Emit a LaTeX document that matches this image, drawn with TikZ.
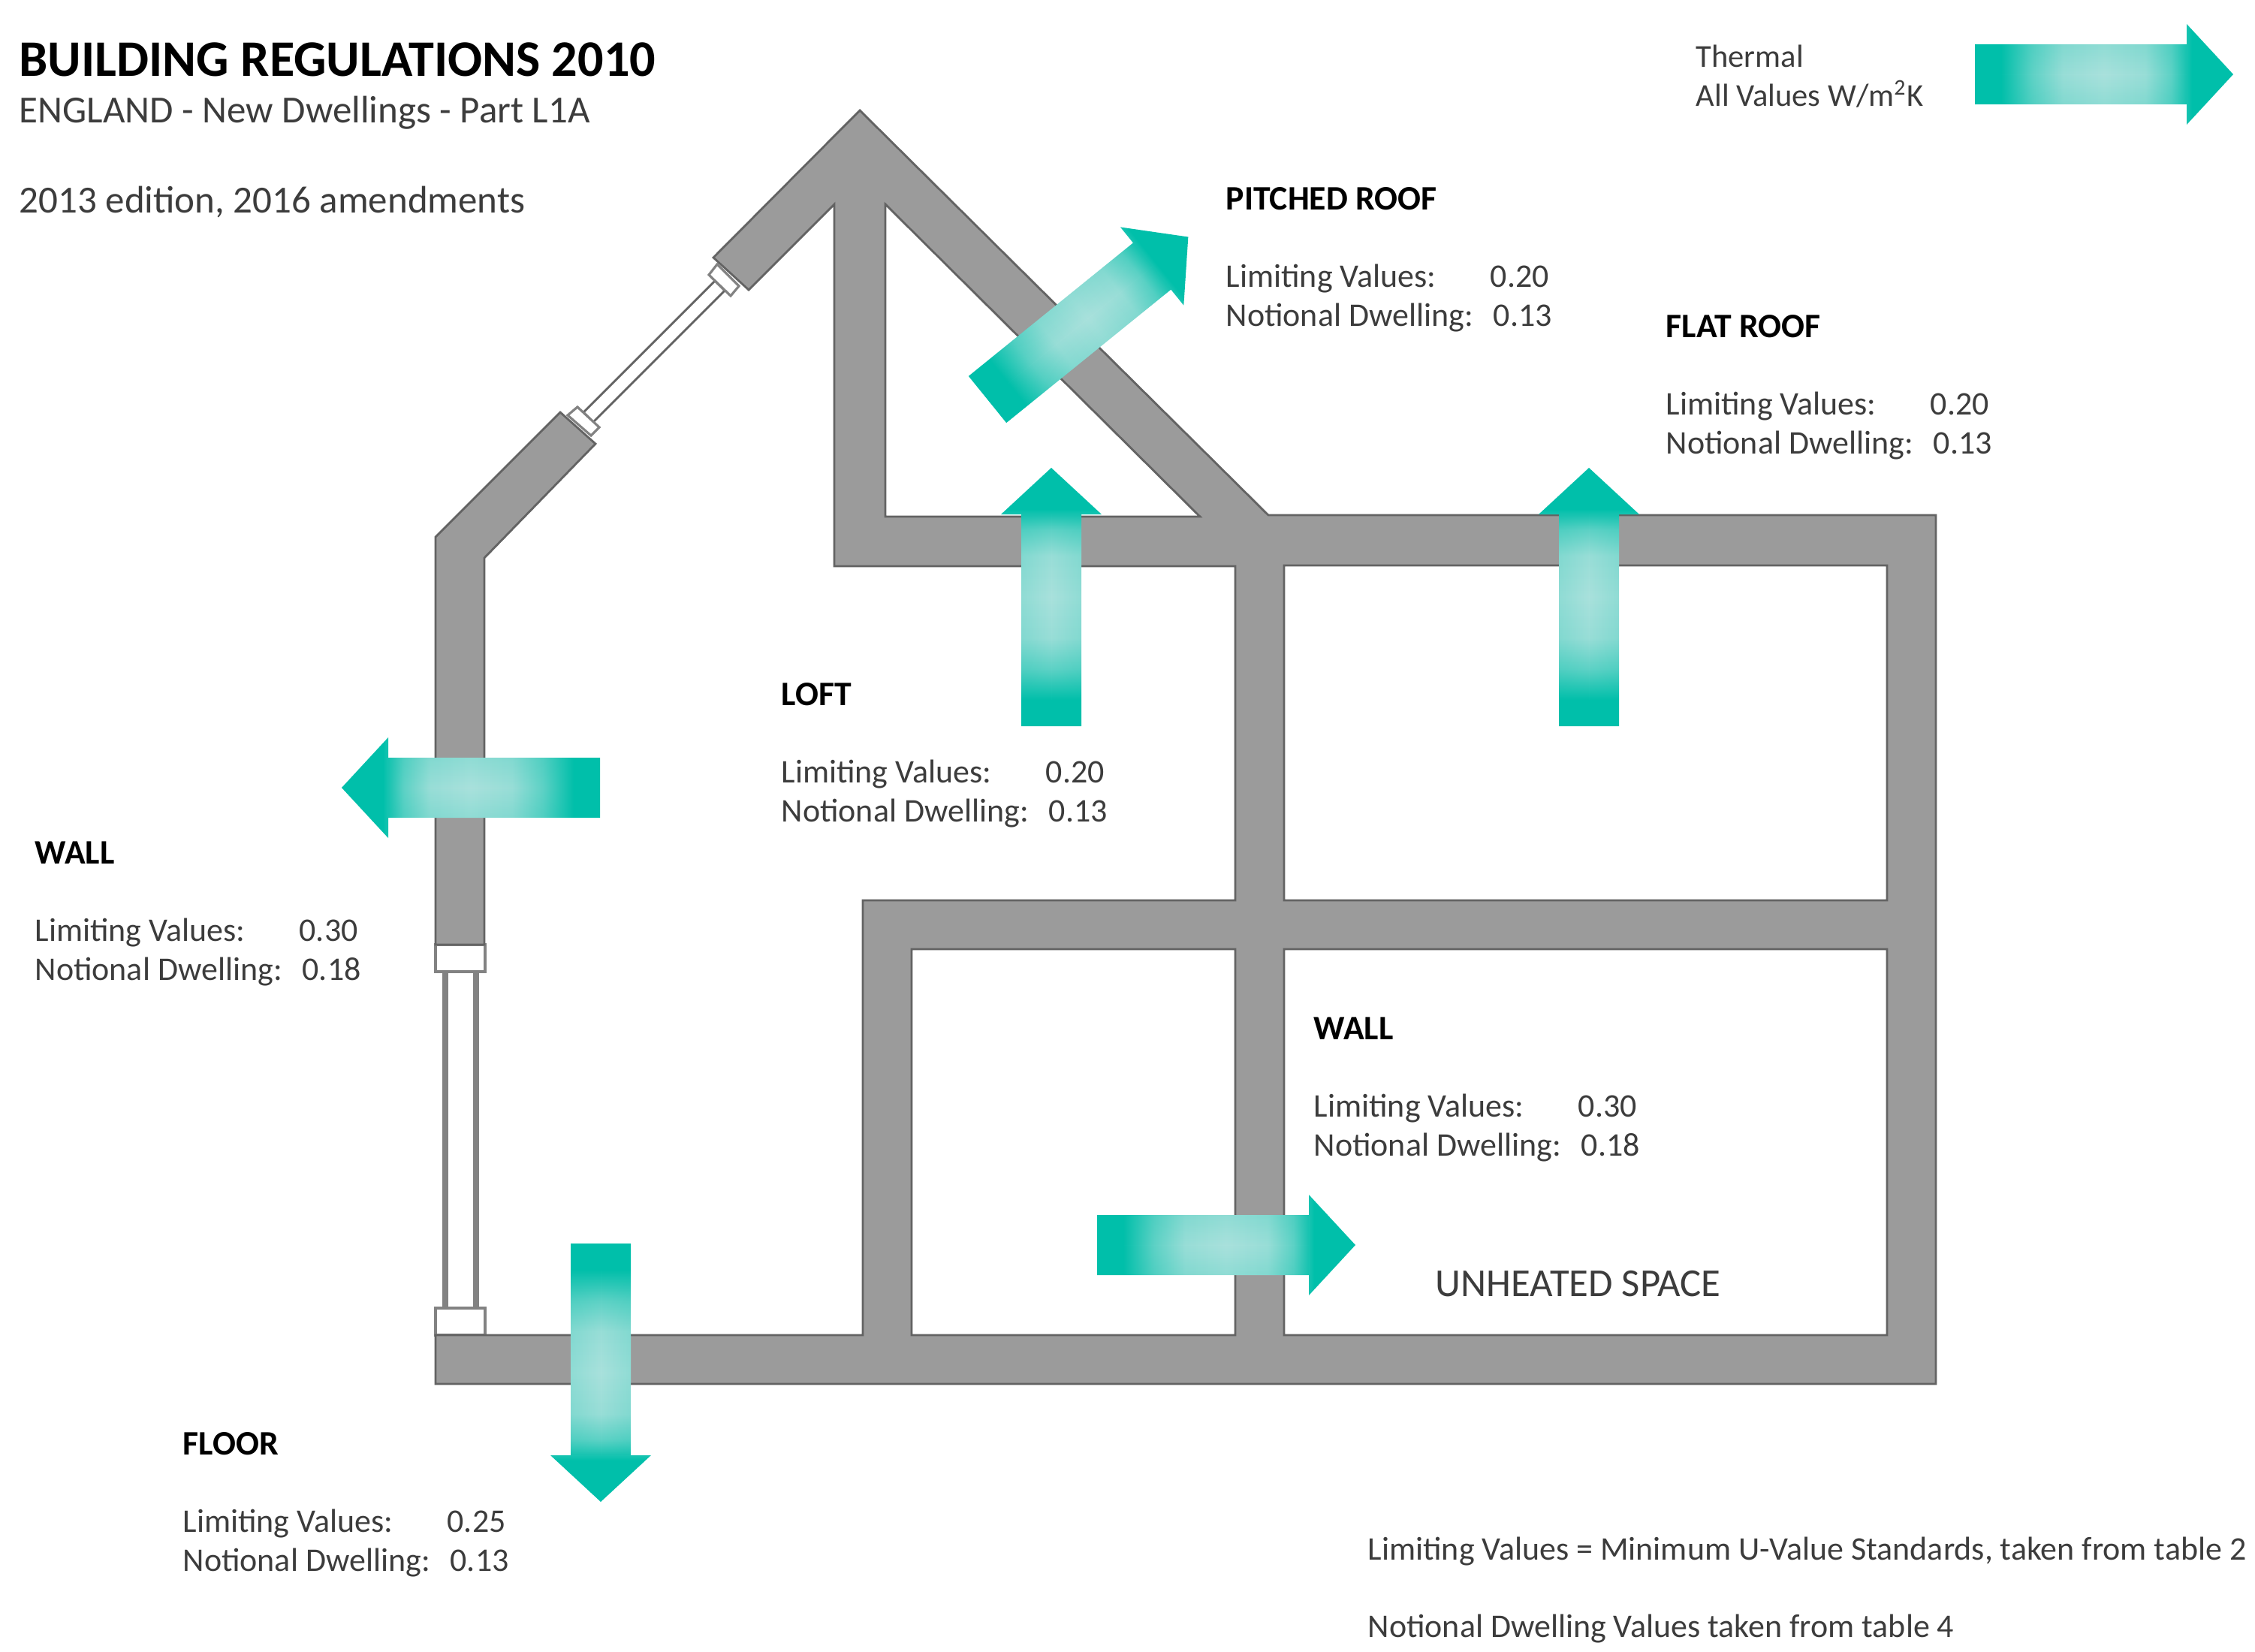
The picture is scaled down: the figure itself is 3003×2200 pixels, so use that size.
\documentclass[tikz,border=0pt]{standalone}
\usepackage{fontspec}
\setmainfont{Carlito}
\usetikzlibrary{shadings, fadings}

\definecolor{tealfull}{HTML}{00BFAA}
\definecolor{teallight}{HTML}{A9E1DC}
\definecolor{wallgray}{HTML}{9B9B9B}
\definecolor{walledge}{HTML}{636363}
\definecolor{txtgray}{HTML}{3C3C3C}

\pgfdeclarehorizontalshading{thermal}{100bp}{color(0bp)=(tealfull); color(30bp)=(tealfull); color(36bp)=(tealfull!45!teallight); color(42bp)=(tealfull!10!teallight); color(50bp)=(teallight); color(58bp)=(tealfull!10!teallight); color(63bp)=(tealfull!45!teallight); color(67bp)=(tealfull); color(100bp)=(tealfull)}
\tikzfading[name=edgefade, top color=transparent!85, bottom color=transparent!85, middle color=transparent!100]

\tikzset{
    wall/.style={fill=wallgray, draw=walledge, line width=0.8pt, even odd rule},
    frame/.style={fill=white, draw=walledge!80, line width=0.9pt},
    glass/.style={draw=walledge!80, line width=#1},
    txt/.style={anchor=base west, inner sep=0pt, text=txtgray, font=\fontsize{12.5}{15}\selectfont},
    head/.style={txt, text=black, font=\fontsize{13}{15}\selectfont\bfseries},
    big/.style={txt, font=\fontsize{14.5}{17}\selectfont},
    thermalarrow/.style={shading=thermal}
}

% tail centre, angle
\newcommand{\heatarrow}[3]{
    \shade [thermalarrow, transform canvas={shift={(#1,#2)}, rotate=#3}]
        (0,-40) -- (282,-40) -- (282,-67) -- (344,0) -- (282,67) -- (282,40) -- (0,40) -- cycle;
    \fill [tealfull, path fading=edgefade, transform canvas={shift={(#1,#2)}, rotate=#3}]
        (0,-40) rectangle (282,40);
}

% name, position, title, limiting value, notional value
\newcommand{\uvalues}[6]{
    \node [head] (#1) at (#2,#3) {#4};
    \node [txt, shift={(0,103)}] (#1lim) at (#1.base west) {Limiting Values:};
    \node [txt, shift={(0,155)}] (#1not) at (#1.base west) {Notional Dwelling:};
    \node [txt, shift={(352,103)}] (#1limval) at (#1.base west) {#5};
    \node [txt, shift={(356,155)}] (#1notval) at (#1.base west) {#6};
}

\begin{document}
\begin{tikzpicture}[x=0.01cm, y=-0.01cm]
    \useasboundingbox (0,0) rectangle (3003,2200);

    % windows
    \draw [glass=0.8pt, draw=walledge, fill=white] (952,374) -- (777,549) -- (790,562) -- (965,387) -- cycle;
    \draw [frame] (955,352) -- (984,381) -- (973,394) -- (944,366) -- cycle;
    \draw [frame] (769,542) -- (798,569) -- (787,580) -- (756,553) -- cycle;
    \draw [glass=2.2pt] (593,1294) -- (593,1742);
    \draw [glass=2.2pt] (634,1294) -- (634,1742);
    \draw [frame] (580,1258) rectangle (646,1294);
    \draw [frame] (580,1742) rectangle (646,1778);

    % walls
    \draw [wall] (580,1258) -- (580,715) -- (746,549) -- (793,591) -- (645,743) -- (645,1258) -- cycle;
    \draw [wall] (950,343) -- (1145,147) -- (1689,686) -- (2578,686) -- (2578,1843) -- (580,1843) -- (580,1778)
        -- (1149,1778) -- (1149,1199) -- (1645,1199) -- (1645,754) -- (1111,754) -- (1111,272) -- (997,386) -- cycle
        (1179,272) -- (1598,688) -- (1179,688) -- cycle
        (1710,753) rectangle (2513,1199)
        (1710,1264) rectangle (2513,1778)
        (1214,1264) rectangle (1645,1778);

    % arrows
    \heatarrow{2630}{99}{0}
    \heatarrow{1315}{532}{39}
    \heatarrow{1400}{967}{90}
    \heatarrow{2116}{967}{90}
    \heatarrow{799}{1049}{180}
    \heatarrow{1461}{1658}{0}
    \heatarrow{800}{1656}{-90}

    % title
    \node [head, font=\fontsize{19.4}{23}\selectfont\bfseries] (title) at (25,102) {BUILDING REGULATIONS 2010};
    \node [big] (subtitle) at (25,163) {ENGLAND - New Dwellings - Part L1A};
    \node [big] (edition) at (25,283) {2013 edition, 2016 amendments};
    \node [txt, font=\fontsize{12.1}{15}\selectfont] (thermal) at (2258,90) {Thermal};
    \node [txt, font=\fontsize{12.1}{15}\selectfont] (units) at (2258,142) {All Values W/m\textsuperscript{2}K};

    \uvalues{pitched}{1632}{279}{PITCHED ROOF}{0.20}{0.13}
    \uvalues{flat}{2218}{449}{FLAT ROOF}{0.20}{0.13}
    \uvalues{loft}{1040}{939}{LOFT}{0.20}{0.13}
    \uvalues{wallleft}{46}{1150}{WALL}{0.30}{0.18}
    \uvalues{wallright}{1749}{1384}{WALL}{0.30}{0.18}
    \uvalues{floor}{243}{1937}{FLOOR}{0.25}{0.13}

    \node [txt, font=\fontsize{15}{18}\selectfont] (unheated) at (1911,1726) {UNHEATED SPACE};
    \node [txt] (notea) at (1821,2077) {Limiting Values = Minimum U-Value Standards, taken from table 2};
    \node [txt] (noteb) at (1821,2180) {Notional Dwelling Values taken from table 4};
\end{tikzpicture}
\end{document}
